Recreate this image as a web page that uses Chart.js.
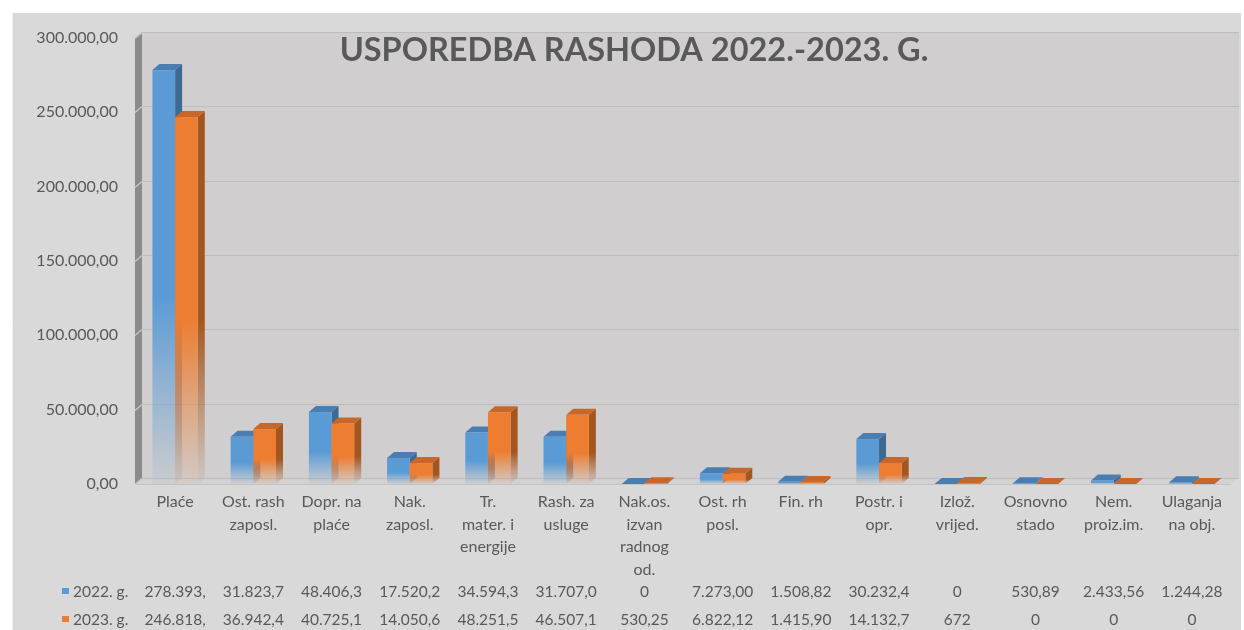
<!DOCTYPE html>
<html>
<head>
<meta charset="utf-8">
<title>Usporedba rashoda 2022.-2023.</title>
<script src="https://cdn.jsdelivr.net/npm/chart.js@4.4.1/dist/chart.umd.min.js"></script>
<style>
    html, body { margin: 0; padding: 0; background: #ffffff; }
    #wrap { width: 1244px; height: 630px; }
</style>
</head>
<body>
<div id="wrap"><canvas id="rashodiCanvas" width="1244" height="630"></canvas></div>
<script>
// Categories (multi-line labels as shown under the bars)
const categories = [
    ['Plaće'],
    ['Ost. rash', 'zaposl.'],
    ['Dopr. na', 'plaće'],
    ['Nak.', 'zaposl.'],
    ['Tr.', 'mater. i', 'energije'],
    ['Rash. za', 'usluge'],
    ['Nak.os.', 'izvan', 'radnog', 'od.'],
    ['Ost. rh', 'posl.'],
    ['Fin. rh'],
    ['Postr. i', 'opr.'],
    ['Izlož.', 'vrijed.'],
    ['Osnovno', 'stado'],
    ['Nem.', 'proiz.im.'],
    ['Ulaganja', 'na obj.']
];

const seriesNames = ['2022. g.', '2023. g.'];

// values read from the data table (last decimals estimated where the cell is cut off)
const values2022 = [278393.45, 31823.74, 48406.35, 17520.26, 34594.37, 31707.05, 0, 7273.00, 1508.82, 30232.48, 0, 530.89, 2433.56, 1244.28];
const values2023 = [246818.62, 36942.43, 40725.19, 14050.63, 48251.52, 46507.16, 530.25, 6822.12, 1415.90, 14132.74, 672, 0, 0, 0];

const yMax = 300000;
const yStep = 50000;

const FONT = 'Lato, "Open Sans", sans-serif';
const TEXT = '#595959';

// face colours per series: front, top, side
const frontCol = ['#5b9bd5', '#ed7d31'];
const topCol = ['#4a7eb3', '#c8672a'];
const sideCol = ['#3e6991', '#a5561f'];
const DX = 7, DY = 6; // depth offset

function withThousands(intPart) {
    return intPart.replace(/\B(?=(\d{3})+(?!\d))/g, '.');
}

// "300.000,00" style
function fmtTick(v) {
    const parts = v.toFixed(2).split('.');
    return withThousands(parts[0]) + ',' + parts[1];
}

// data table cell text, clipped like the spreadsheet cell
function fmtCell(v) {
    if (v === 0) return '0';
    if (Number.isInteger(v) && v < 1000) return String(v);
    return fmtTick(v).slice(0, 8);
}

function rgba(hex, a) {
    const n = parseInt(hex.slice(1), 16);
    return `rgba(${(n >> 16) & 255}, ${(n >> 8) & 255}, ${n & 255}, ${a})`;
}

function fadeGradient(c, hex, yTop, yBottom) {
    const g = c.createLinearGradient(0, yTop, 0, Math.max(yBottom, yTop + 1));
    g.addColorStop(0, rgba(hex, 1));
    g.addColorStop(0.55, rgba(hex, 1));
    g.addColorStop(0.8, rgba(hex, 0.45));
    g.addColorStop(1, rgba(hex, 0.05));
    return g;
}

// panel, back wall, side wall, floor and grid lines
const backdrop = {
    id: 'backdrop',
    beforeDraw(chart) {
        const c = chart.ctx;
        const a = chart.chartArea;
        const y = chart.scales.y;
        c.save();
        c.fillStyle = '#ffffff';
        c.fillRect(0, 0, chart.width, chart.height);
        c.fillStyle = '#d9d9d9';
        c.fillRect(13, 13, 1228, chart.height - 13);
        c.strokeStyle = '#eeeeee';
        c.lineWidth = 1;
        c.beginPath();
        c.moveTo(12.5, 13);
        c.lineTo(12.5, chart.height);
        c.stroke();

        // back wall
        c.fillStyle = '#d0cece';
        c.fillRect(a.left + DX - 1, a.top - DY, a.right - a.left + 2, a.bottom - a.top);

        // floor
        c.fillStyle = '#d3d1d1';
        c.beginPath();
        c.moveTo(a.left - 1, a.bottom);
        c.lineTo(a.right, a.bottom);
        c.lineTo(a.right + DX, a.bottom - DY);
        c.lineTo(a.left + DX - 1, a.bottom - DY);
        c.closePath();
        c.fill();

        // side wall
        c.fillStyle = '#8a8a8a';
        c.beginPath();
        c.moveTo(a.left - 1, a.top);
        c.lineTo(a.left + DX - 1, a.top - DY);
        c.lineTo(a.left + DX - 1, a.bottom - DY);
        c.lineTo(a.left - 1, a.bottom);
        c.closePath();
        c.fill();

        // grid lines on back wall + slanted marks on side wall
        y.ticks.forEach(t => {
            const py = Math.round(y.getPixelForValue(t.value)) + 0.5;
            c.strokeStyle = '#bdbdbd';
            c.lineWidth = 1.2;
            c.beginPath();
            c.moveTo(a.left + DX - 1, py - DY);
            c.lineTo(a.right + DX + 1, py - DY);
            c.stroke();
            c.strokeStyle = '#c8c8c8';
            c.beginPath();
            c.moveTo(a.left - 1, py);
            c.lineTo(a.left + DX - 1, py - DY);
            c.stroke();
        });
        // front floor edge
        c.strokeStyle = '#c4c4c4';
        c.beginPath();
        c.moveTo(a.left - 1, a.bottom + 0.5);
        c.lineTo(a.right, a.bottom + 0.5);
        c.stroke();
        c.restore();
    }
};

// 3D fading bars drawn from the bar elements Chart.js lays out
const bars3d = {
    id: 'bars3d',
    afterDatasetsDraw(chart) {
        const c = chart.ctx;
        const n = chart.data.labels.length;
        c.save();
        for (let i = 0; i < n; i++) {
            chart.data.datasets.forEach((ds, di) => {
                const bar = chart.getDatasetMeta(di).data[i];
                const p = bar.getProps(['x', 'y', 'base', 'width'], true);
                const l = p.x - p.width / 2;
                const r = p.x + p.width / 2;
                const top = Math.min(p.y, p.base);
                const base = p.base;

                // side face
                c.fillStyle = fadeGradient(c, sideCol[di], top, base);
                c.beginPath();
                c.moveTo(r, top);
                c.lineTo(r + DX, top - DY);
                c.lineTo(r + DX, base - DY);
                c.lineTo(r, base);
                c.closePath();
                c.fill();

                // top face
                c.fillStyle = topCol[di];
                c.beginPath();
                c.moveTo(l, top);
                c.lineTo(l + DX, top - DY);
                c.lineTo(r + DX, top - DY);
                c.lineTo(r, top);
                c.closePath();
                c.fill();

                // front face
                if (base - top > 0.5) {
                    c.fillStyle = fadeGradient(c, frontCol[di], top, base);
                    c.fillRect(l, top, r - l, base - top);
                }
            });
        }
        c.restore();
    }
};

// title and data table with legend keys
const tableAndTitle = {
    id: 'tableAndTitle',
    afterDraw(chart) {
        const c = chart.ctx;
        const x = chart.scales.x;
        c.save();
        c.fillStyle = TEXT;
        c.font = 'bold 32.5px ' + FONT;
        c.textAlign = 'center';
        c.textBaseline = 'middle';
        c.fillText('USPOREDBA RASHODA 2022.-2023. G.', 634, 51);

        const rowY = [592, 620];
        c.font = '15.5px ' + FONT;
        chart.data.datasets.forEach((ds, di) => {
            const yy = rowY[di];
            c.fillStyle = frontCol[di];
            c.fillRect(62, yy - 4, 7, 6);
            c.fillStyle = TEXT;
            c.textAlign = 'left';
            c.fillText(ds.label, 73, yy);
            c.textAlign = 'center';
            ds.data.forEach((v, i) => {
                c.fillText(fmtCell(v), x.getPixelForValue(i), yy);
            });
        });
        c.restore();
    }
};

const ctx = document.getElementById('rashodiCanvas').getContext('2d');
const chart = new Chart(ctx, {
    type: 'bar',
    data: {
        labels: categories,
        datasets: [
            { label: seriesNames[0], data: values2022, backgroundColor: 'rgba(0,0,0,0)', borderWidth: 0 },
            { label: seriesNames[1], data: values2023, backgroundColor: 'rgba(0,0,0,0)', borderWidth: 0 }
        ]
    },
    options: {
        responsive: false,
        animation: false,
        layout: { padding: { top: 38, right: 13, left: 0, bottom: 0 } },
        datasets: {
            bar: { categoryPercentage: 0.58, barPercentage: 1.0 }
        },
        scales: {
            x: {
                grid: { display: false, drawTicks: false },
                border: { display: false },
                ticks: {
                    color: TEXT,
                    font: { family: FONT, size: 16, lineHeight: 1.4 },
                    padding: 7,
                    autoSkip: false,
                    maxRotation: 0,
                    minRotation: 0
                },
                afterFit(scale) { scale.height = 146; }
            },
            y: {
                min: 0,
                max: yMax,
                grid: { display: false, drawTicks: false },
                border: { display: false },
                ticks: {
                    stepSize: yStep,
                    color: TEXT,
                    font: { family: FONT, size: 16 },
                    padding: 18,
                    callback: v => fmtTick(v)
                },
                afterFit(scale) { scale.width = 136; }
            }
        },
        plugins: {
            legend: { display: false },
            tooltip: { enabled: false }
        }
    },
    plugins: [backdrop, bars3d, tableAndTitle]
});
</script>
</body>
</html>
